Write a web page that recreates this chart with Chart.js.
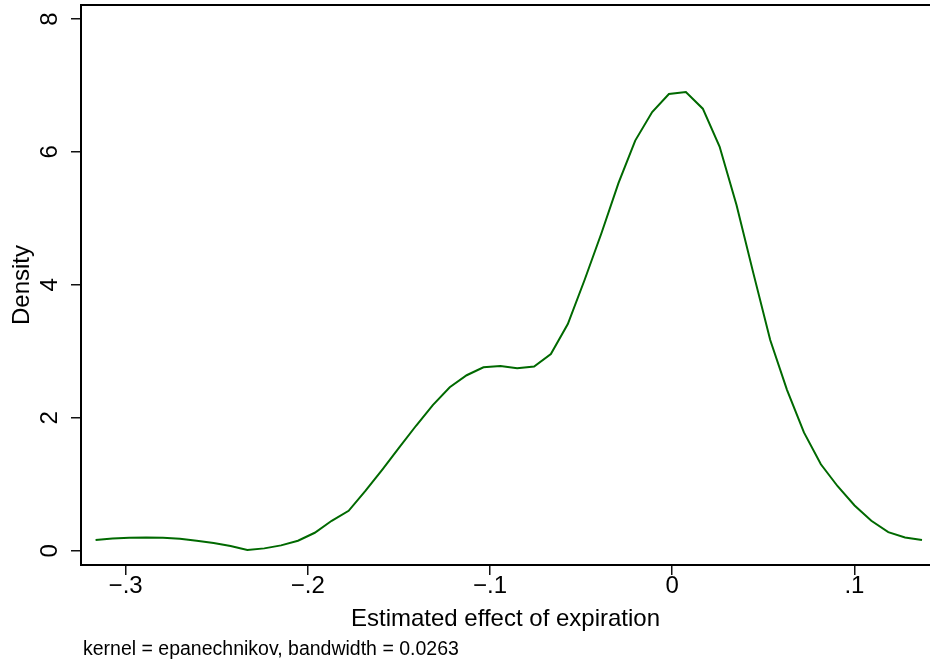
<!DOCTYPE html>
<html>
<head>
<meta charset="utf-8">
<script src="https://cdn.jsdelivr.net/npm/chart.js@4/dist/chart.umd.min.js"></script>
<style>
  html, body { margin: 0; padding: 0; background: #fff; }
  #wrap { width: 930px; height: 665px; }
</style>
</head>
<body>
<div id="wrap"><canvas id="densityChart" width="930" height="665"></canvas></div>
<script>
// kdensity grid points (x) and estimated density (y)
const gridX = [
  -0.3165, -0.3072, -0.2980, -0.2887, -0.2795, -0.2702, -0.2610, -0.2517, -0.2424, -0.2332,
  -0.2239, -0.2147, -0.2054, -0.1962, -0.1869, -0.1776, -0.1684, -0.1591, -0.1499, -0.1406,
  -0.1314, -0.1221, -0.1128, -0.1036, -0.0943, -0.0851, -0.0758, -0.0666, -0.0573, -0.0480,
  -0.0388, -0.0295, -0.0203, -0.0110, -0.0018, 0.0075, 0.0168, 0.0260, 0.0353, 0.0445,
  0.0538, 0.0630, 0.0723, 0.0816, 0.0908, 0.1001, 0.1093, 0.1186, 0.1278, 0.1371
];
const density = [
  0.16, 0.185, 0.195, 0.20, 0.195, 0.18, 0.15, 0.115, 0.07, 0.01,
  0.035, 0.08, 0.15, 0.27, 0.45, 0.60, 0.90, 1.22, 1.55, 1.88,
  2.19, 2.46, 2.64, 2.76, 2.78, 2.745, 2.77, 2.96, 3.41, 4.08,
  4.78, 5.53, 6.17, 6.60, 6.87, 6.90, 6.65, 6.08, 5.20, 4.18,
  3.17, 2.42, 1.78, 1.30, 0.97, 0.68, 0.45, 0.28, 0.20, 0.16
];
const xTicks = [-0.3, -0.2, -0.1, 0, 0.1];
const yTicks = [0, 2, 4, 6, 8];
const xTitle = 'Estimated effect of expiration';
const yTitle = 'Density';
const noteText = 'kernel = epanechnikov, bandwidth = 0.0263';

const FONT = '"Liberation Sans", Arial, Helvetica, sans-serif';

// stata style labels: −.3, 0, .1
const fmt = v => {
  if (v === 0) return '0';
  const s = String(Math.abs(v)).replace(/^0/, '');
  return (v < 0 ? '\u2212' : '') + s;
};

const stataText = {
  id: 'stataText',
  afterDraw(chart) {
    const { ctx, chartArea, scales } = chart;
    const xs = scales.x, ys = scales.y;
    ctx.save();
    ctx.fillStyle = '#000';

    // top outline of plot region
    ctx.strokeStyle = '#000';
    ctx.lineWidth = 2;
    ctx.beginPath();
    ctx.moveTo(chartArea.left - 1, chartArea.top);
    ctx.lineTo(chartArea.right, chartArea.top);
    ctx.stroke();

    ctx.font = '24px ' + FONT;
    ctx.textAlign = 'center';
    ctx.textBaseline = 'middle';

    xTicks.forEach(v => {
      ctx.fillText(fmt(v), xs.getPixelForValue(v), 586);
    });

    yTicks.forEach(v => {
      ctx.save();
      ctx.translate(50, ys.getPixelForValue(v));
      ctx.rotate(-Math.PI / 2);
      ctx.fillText(fmt(v), 0, 0);
      ctx.restore();
    });

    ctx.save();
    ctx.translate(22, (chartArea.top + chartArea.bottom) / 2);
    ctx.rotate(-Math.PI / 2);
    ctx.fillText(yTitle, 0, 0);
    ctx.restore();

    ctx.fillText(xTitle, (chartArea.left + chartArea.right) / 2, 619);

    ctx.font = '19.5px ' + FONT;
    ctx.textAlign = 'left';
    ctx.fillText(noteText, 83, 650);
    ctx.restore();
  }
};

const ctx = document.getElementById('densityChart').getContext('2d');
new Chart(ctx, {
  type: 'scatter',
  data: {
    datasets: [{
      data: gridX.map((x, i) => ({ x, y: density[i] })),
      showLine: true,
      borderColor: 'rgb(0, 105, 0)',
      borderWidth: 2,
      pointRadius: 0,
      tension: 0,
      fill: false
    }]
  },
  options: {
    responsive: false,
    devicePixelRatio: 1,
    animation: false,
    layout: { padding: { top: 5, right: 0, bottom: 0, left: 0 } },
    plugins: {
      legend: { display: false },
      tooltip: { enabled: false }
    },
    scales: {
      x: {
        type: 'linear',
        min: -0.3245,
        max: 0.1415,
        afterBuildTicks: s => { s.ticks = xTicks.map(v => ({ value: v })); },
        afterFit: s => { s.height = 100; },
        ticks: { display: false },
        grid: { drawOnChartArea: false, drawTicks: true, tickLength: 10, color: '#111', lineWidth: 1.5 },
        border: { display: true, color: '#000', width: 2 }
      },
      y: {
        type: 'linear',
        min: -0.215,
        max: 8.21,
        afterBuildTicks: s => { s.ticks = yTicks.map(v => ({ value: v })); },
        afterFit: s => { s.width = 81; },
        ticks: { display: false },
        grid: { drawOnChartArea: false, drawTicks: true, tickLength: 10, color: '#111', lineWidth: 1.5 },
        border: { display: true, color: '#000', width: 2 }
      }
    }
  },
  plugins: [stataText]
});
</script>
</body>
</html>
